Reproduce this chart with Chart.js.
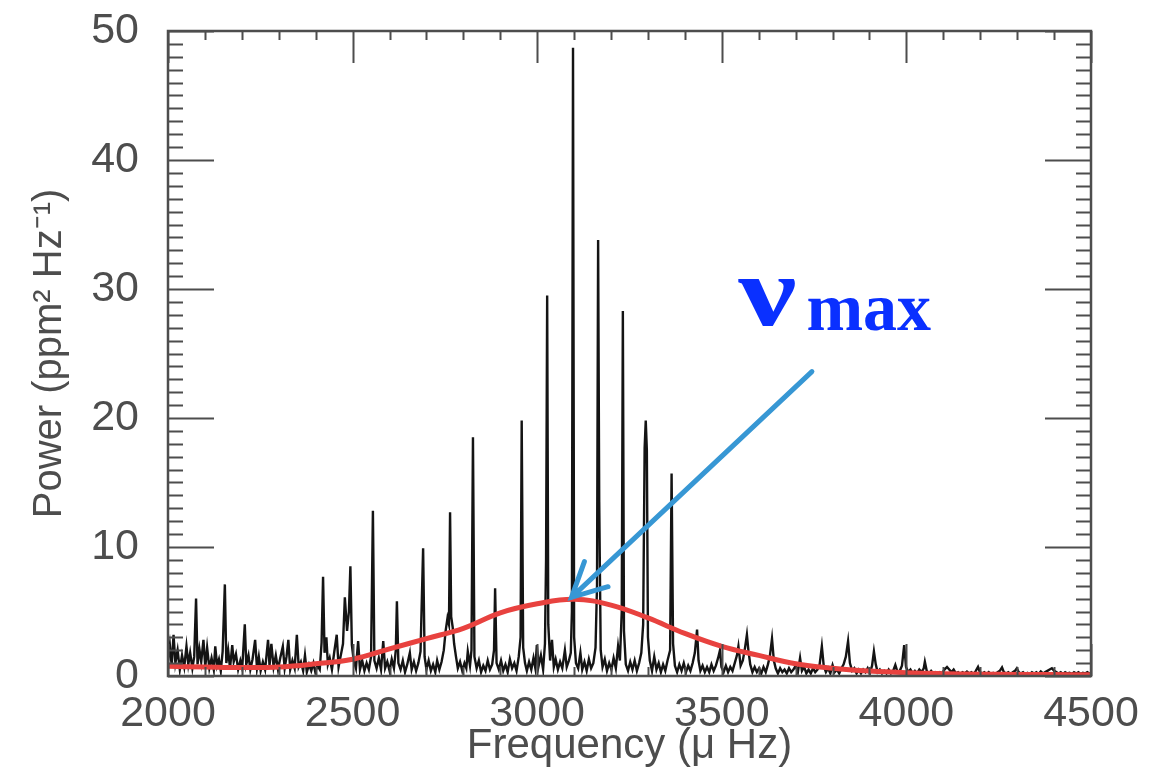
<!DOCTYPE html>
<html>
<head>
<meta charset="utf-8">
<script src="https://cdn.jsdelivr.net/npm/chart.js@4.4.1/dist/chart.umd.min.js"></script>
<style>
    body { margin: 0; background: #ffffff; }
    canvas { display: block; }
</style>
</head>
<body>
<canvas id="grafico" width="1162" height="776"></canvas>
<script>
// #region Dados

// eixos
var xTicks = [2000, 2500, 3000, 3500, 4000, 4500];
var yTicks = [0, 10, 20, 30, 40, 50];

var fitFreq = [2000, 2100, 2200, 2300, 2400, 2500, 2600, 2700, 2800, 2900, 3000, 3100, 3200,
    3300, 3400, 3500, 3600, 3700, 3800, 3900, 4000, 4100, 4200, 4300, 4400, 4500];
var fitPower = [0.75, 0.7, 0.66, 0.7, 0.95, 1.3, 2.1, 2.9, 3.7, 4.9, 5.6, 5.95, 5.5,
    4.5, 3.3, 2.3, 1.6, 0.95, 0.6, 0.38, 0.25, 0.18, 0.14, 0.12, 0.11, 0.1];

// espectro de potencia [frequencia, potencia]
var spectrum = [
    [2000, 1.2], [2005, 2.4], [2010, 0.8], [2015, 3.2], [2020, 1.0], [2026, 2.0], [2032, 0.5], [2038, 1.6],
    [2044, 0.7], [2050, 2.3], [2055, 0.9], [2060, 1.8], [2066, 0.6], [2071, 1.5], [2076, 6.0], [2080, 0.9],
    [2085, 2.1], [2090, 1.1], [2096, 2.8], [2101, 0.7], [2106, 2.2], [2112, 0.6], [2118, 1.4], [2124, 0.5],
    [2128, 2.3], [2133, 0.8], [2138, 1.3], [2143, 0.4], [2148, 1.9], [2154, 7.1], [2158, 1.0], [2163, 2.0],
    [2168, 0.6], [2174, 2.4], [2178, 1.1], [2184, 1.7], [2190, 0.5], [2196, 1.2], [2201, 0.6], [2208, 4.0],
    [2212, 0.9], [2218, 1.6], [2223, 0.5], [2229, 1.3], [2236, 2.8], [2241, 0.6], [2246, 1.5], [2251, 0.4],
    [2257, 1.1], [2263, 0.5], [2271, 2.8], [2275, 0.8], [2280, 2.5], [2286, 0.7], [2292, 1.6], [2298, 0.5],
    [2304, 1.4], [2311, 2.3], [2316, 0.6], [2321, 1.5], [2326, 2.8], [2331, 0.5], [2337, 1.2], [2343, 0.6],
    [2349, 3.2], [2354, 0.7], [2360, 1.1], [2366, 0.4], [2371, 1.6], [2376, 0.3], [2382, 0.9], [2388, 0.4],
    [2394, 1.0], [2399, 0.3], [2405, 0.8], [2411, 0.5], [2416, 2.6], [2420, 7.7], [2424, 1.8], [2429, 3.0],
    [2433, 0.9], [2438, 1.4], [2444, 0.5], [2450, 1.8], [2457, 3.2], [2462, 0.7], [2468, 1.6], [2474, 2.5],
    [2479, 6.1], [2485, 3.5], [2490, 5.0], [2494, 8.5], [2498, 2.4], [2503, 1.2], [2509, 0.6], [2515, 2.7],
    [2520, 0.5], [2526, 1.2], [2532, 0.4], [2538, 1.0], [2544, 0.5], [2550, 1.5], [2555, 12.8], [2559, 1.2],
    [2565, 0.6], [2571, 1.4], [2577, 0.5], [2583, 2.7], [2588, 0.6], [2594, 1.1], [2600, 0.4], [2606, 1.3],
    [2612, 0.6], [2617, 2.0], [2620, 5.8], [2624, 1.0], [2630, 0.5], [2636, 1.2], [2642, 0.3], [2648, 0.9],
    [2655, 1.8], [2660, 0.5], [2666, 1.1], [2672, 0.4], [2678, 1.0], [2684, 1.9], [2691, 9.9], [2695, 1.5],
    [2700, 0.5], [2706, 1.2], [2712, 0.4], [2718, 0.9], [2724, 0.3], [2729, 1.2], [2735, 0.5], [2741, 1.1],
    [2747, 2.0], [2752, 3.5], [2757, 4.5], [2761, 4.0], [2764, 12.7], [2767, 4.6], [2771, 3.8], [2775, 2.5],
    [2780, 1.5], [2785, 0.6], [2791, 1.1], [2797, 0.4], [2803, 1.0], [2808, 0.6], [2812, 1.9], [2818, 0.8],
    [2822, 2.0], [2826, 18.5], [2830, 1.5], [2836, 0.6], [2842, 1.2], [2848, 0.3], [2854, 0.8], [2860, 0.4],
    [2866, 1.2], [2872, 0.5], [2878, 0.9], [2883, 2.0], [2886, 6.8], [2890, 1.0], [2896, 0.5], [2902, 1.2],
    [2908, 0.4], [2914, 0.9], [2920, 0.3], [2926, 1.3], [2932, 0.6], [2938, 1.0], [2944, 0.4], [2950, 1.5],
    [2955, 3.0], [2958, 19.8], [2962, 2.2], [2967, 1.0], [2972, 0.4], [2978, 1.1], [2984, 0.5], [2990, 1.4],
    [2995, 0.6], [2999, 2.4], [3004, 0.8], [3010, 1.6], [3016, 0.5], [3021, 2.5], [3024, 9.0], [3027, 29.5],
    [3030, 4.0], [3035, 1.2], [3040, 2.8], [3045, 0.7], [3050, 1.3], [3056, 0.5], [3062, 1.1], [3068, 0.6],
    [3075, 2.0], [3080, 0.7], [3086, 1.2], [3091, 1.8], [3094, 5.0], [3097, 48.7], [3100, 3.0], [3105, 1.0],
    [3111, 0.6], [3117, 1.8], [3122, 0.5], [3128, 1.1], [3134, 0.4], [3140, 1.3], [3146, 0.6], [3152, 1.0],
    [3158, 2.2], [3162, 7.0], [3165, 33.8], [3168, 13.5], [3172, 2.0], [3177, 0.7], [3183, 1.3], [3189, 0.4],
    [3195, 1.0], [3201, 0.5], [3207, 1.4], [3213, 0.6], [3219, 2.3], [3224, 1.2], [3229, 5.0], [3232, 28.3],
    [3235, 3.5], [3240, 0.9], [3246, 0.4], [3252, 1.1], [3258, 0.5], [3264, 1.2], [3270, 0.4], [3276, 1.0],
    [3282, 1.8], [3287, 4.0], [3291, 17.7], [3294, 19.8], [3297, 17.5], [3300, 3.0], [3305, 1.2], [3311, 0.4],
    [3317, 1.5], [3323, 0.5], [3329, 1.0], [3335, 0.3], [3341, 0.9], [3347, 0.4], [3353, 1.2], [3360, 2.0],
    [3364, 15.7], [3368, 2.5], [3373, 0.8], [3379, 0.3], [3385, 0.9], [3391, 0.4], [3397, 1.0], [3403, 0.3],
    [3409, 0.8], [3415, 0.4], [3421, 1.0], [3427, 1.8], [3433, 3.6], [3437, 1.2], [3442, 0.4], [3448, 0.8],
    [3454, 0.3], [3460, 0.7], [3466, 0.3], [3472, 0.9], [3478, 0.4], [3484, 0.8], [3490, 1.4], [3495, 2.0],
    [3499, 0.7], [3505, 0.3], [3511, 0.8], [3517, 0.3], [3523, 0.7], [3529, 0.4], [3535, 1.0], [3541, 1.6],
    [3545, 2.3], [3551, 0.8], [3557, 1.2], [3563, 2.2], [3568, 3.2], [3572, 2.0], [3577, 0.9], [3583, 0.3],
    [3589, 0.7], [3595, 0.3], [3601, 0.6], [3607, 0.2], [3613, 0.7], [3619, 0.3], [3625, 0.9], [3630, 1.5],
    [3636, 2.9], [3641, 1.2], [3646, 0.6], [3652, 0.2], [3658, 0.6], [3664, 0.3], [3670, 0.5], [3676, 0.2],
    [3682, 0.6], [3688, 0.3], [3694, 0.5], [3700, 0.8], [3706, 0.3], [3712, 1.4], [3717, 0.4], [3723, 0.7],
    [3729, 0.2], [3735, 0.5], [3741, 0.2], [3747, 0.6], [3753, 0.3], [3759, 0.5], [3765, 0.9], [3771, 2.3],
    [3776, 0.8], [3782, 0.3], [3788, 0.6], [3794, 0.2], [3800, 0.85], [3806, 0.3], [3812, 0.5], [3818, 0.2],
    [3824, 0.6], [3830, 0.9], [3836, 1.5], [3842, 2.7], [3847, 1.0], [3853, 0.4], [3859, 0.6], [3865, 0.2],
    [3871, 0.5], [3877, 0.2], [3883, 0.5], [3889, 0.3], [3895, 0.6], [3901, 0.2], [3907, 0.8], [3912, 1.9],
    [3917, 0.9], [3922, 0.3], [3928, 0.5], [3934, 0.2], [3940, 0.4], [3946, 0.2], [3952, 0.5], [3958, 0.2],
    [3964, 0.4], [3970, 0.85], [3976, 0.3], [3982, 0.4], [3988, 0.8], [3994, 2.4], [3999, 0.7], [4005, 0.3],
    [4011, 0.5], [4017, 0.2], [4023, 0.4], [4029, 0.2], [4035, 0.5], [4041, 0.3], [4047, 0.6], [4050, 1.1],
    [4055, 0.4], [4061, 0.2], [4067, 0.4], [4073, 0.2], [4079, 0.3], [4085, 0.15], [4091, 0.3], [4097, 0.2],
    [4103, 0.5], [4110, 0.7], [4116, 0.5], [4122, 0.3], [4128, 0.5], [4134, 0.2], [4140, 0.3], [4146, 0.15],
    [4152, 0.3], [4158, 0.2], [4164, 0.35], [4170, 0.2], [4176, 0.3], [4182, 0.15], [4188, 0.4], [4194, 0.7],
    [4199, 0.3], [4205, 0.2], [4211, 0.3], [4217, 0.15], [4223, 0.3], [4229, 0.15], [4235, 0.25], [4241, 0.15],
    [4247, 0.3], [4253, 0.4], [4259, 0.67], [4264, 0.3], [4270, 0.2], [4276, 0.3], [4282, 0.15], [4288, 0.3],
    [4294, 0.4], [4299, 0.6], [4304, 0.3], [4310, 0.2], [4316, 0.3], [4322, 0.15], [4328, 0.25], [4334, 0.15],
    [4340, 0.3], [4346, 0.2], [4352, 0.3], [4358, 0.15], [4364, 0.35], [4370, 0.2], [4376, 0.3], [4382, 0.4],
    [4388, 0.5], [4394, 0.6], [4400, 0.4], [4406, 0.3], [4412, 0.2], [4418, 0.3], [4424, 0.15], [4430, 0.3],
    [4436, 0.2], [4442, 0.25], [4448, 0.15], [4454, 0.3], [4460, 0.2], [4466, 0.3], [4472, 0.15], [4478, 0.25],
    [4484, 0.2], [4490, 0.3], [4496, 0.2], [4500, 0.25]
];

// anotacao nu_max: seta (cauda -> ponta) e posicao do texto, em coordenadas de dados
var arrowTail = [3744, 23.6];
var arrowTip = [3093, 6.1];
var labelPos = [3545, 27.2];

// #endregion Dados

var COR_EIXO = '#4d4d4d';
var FONTE = '"Liberation Sans", Arial, sans-serif';

// molduras, marcas internas e anotacao
var molduraPlugin = {
    id: 'moldura',
    afterDraw: function (chart) {
        var ctx = chart.ctx;
        var a = chart.chartArea;
        var sx = chart.scales.x;
        var sy = chart.scales.y;

        ctx.save();
        ctx.strokeStyle = COR_EIXO;
        ctx.lineWidth = 2;
        ctx.beginPath();

        for (var f = 2000; f <= 4500; f += 100) {
            var px = Math.round(sx.getPixelForValue(f)) + 0.5;
            var len = (f % 500 === 0) ? 32 : 9;
            ctx.moveTo(px, a.top); ctx.lineTo(px, a.top + len);
            ctx.moveTo(px, a.bottom); ctx.lineTo(px, a.bottom - len);
        }
        for (var v = 0; v <= 50; v += 1) {
            var py = Math.round(sy.getPixelForValue(v)) + 0.5;
            var lenY = (v % 10 === 0) ? 46 : 15;
            ctx.moveTo(a.left, py); ctx.lineTo(a.left + lenY, py);
            ctx.moveTo(a.right, py); ctx.lineTo(a.right - lenY, py);
        }
        ctx.stroke();

        ctx.lineWidth = 2.5;
        ctx.strokeRect(a.left, a.top, a.right - a.left, a.bottom - a.top);

        // seta azul
        var x0 = sx.getPixelForValue(arrowTail[0]), y0 = sy.getPixelForValue(arrowTail[1]);
        var x1 = sx.getPixelForValue(arrowTip[0]), y1 = sy.getPixelForValue(arrowTip[1]);
        var ang = Math.atan2(y0 - y1, x0 - x1);
        var abertura = 27 * Math.PI / 180, asa = 38;
        ctx.strokeStyle = '#3797d4';
        ctx.lineWidth = 5;
        ctx.lineCap = 'round';
        ctx.beginPath();
        ctx.moveTo(x0, y0); ctx.lineTo(x1, y1);
        ctx.moveTo(x1 + asa * Math.cos(ang - abertura), y1 + asa * Math.sin(ang - abertura));
        ctx.lineTo(x1, y1);
        ctx.lineTo(x1 + asa * Math.cos(ang + abertura), y1 + asa * Math.sin(ang + abertura));
        ctx.stroke();

        // texto nu_max
        var tx = sx.getPixelForValue(labelPos[0]), ty = sy.getPixelForValue(labelPos[1]);
        ctx.fillStyle = '#0a30ff';
        ctx.textBaseline = 'alphabetic';
        ctx.textAlign = 'left';
        ctx.save();
        ctx.translate(tx, ty);
        ctx.scale(1.3, 1);
        ctx.font = 'bold 100px "Liberation Serif", serif';
        ctx.fillText('ν', 0, 0);
        ctx.restore();
        ctx.font = 'bold 68px "Liberation Serif", serif';
        ctx.fillText('max', tx + 68, ty + 5);
        ctx.restore();
    }
};

var _grafico = new Chart(document.getElementById('grafico'), {
    type: 'line',
    data: {
        datasets: [
            {
                label: 'ajuste',
                data: fitFreq.map(function (f, i) { return { x: f, y: fitPower[i] }; }),
                borderColor: '#e8423f',
                borderWidth: 5,
                pointRadius: 0,
                tension: 0.4,
                order: 0
            },
            {
                label: 'espectro',
                data: spectrum.map(function (p) { return { x: p[0], y: p[1] }; }),
                borderColor: '#141414',
                borderWidth: 2.4,
                pointRadius: 0,
                tension: 0,
                order: 1
            }
        ]
    },
    options: {
        responsive: false,
        animation: false,
        layout: { padding: { top: 31, right: 71, bottom: 0, left: 0 } },
        plugins: { legend: { display: false }, tooltip: { enabled: false } },
        scales: {
            x: {
                type: 'linear',
                min: 2000,
                max: 4500,
                afterBuildTicks: function (s) { s.ticks = xTicks.map(function (v) { return { value: v }; }); },
                afterFit: function (s) { s.height = 100; s.paddingLeft = 0; s.paddingRight = 0; },
                grid: { display: false },
                border: { display: false },
                ticks: {
                    autoSkip: false, maxRotation: 0, padding: 4, color: COR_EIXO,
                    font: { family: FONTE, size: 43 },
                    callback: function (v) { return String(v); }
                },
                title: {
                    display: true, text: 'Frequency (μ Hz)', color: COR_EIXO,
                    font: { family: FONTE, size: 42 }, padding: { top: 0, bottom: 4 }
                }
            },
            y: {
                type: 'linear',
                min: 0,
                max: 50,
                afterBuildTicks: function (s) { s.ticks = yTicks.map(function (v) { return { value: v }; }); },
                afterFit: function (s) { s.width = 168; s.paddingTop = 0; s.paddingBottom = 0; },
                grid: { display: false },
                border: { display: false },
                ticks: {
                    autoSkip: false, padding: 21, color: COR_EIXO,
                    font: { family: FONTE, size: 43 },
                    callback: function (v) { return String(v); }
                },
                title: {
                    display: true, text: 'Power (ppm² Hz⁻¹)', color: COR_EIXO,
                    font: { family: FONTE, size: 40 }, padding: { top: 26, bottom: 0 }
                }
            }
        }
    },
    plugins: [molduraPlugin]
});
</script>
</body>
</html>
